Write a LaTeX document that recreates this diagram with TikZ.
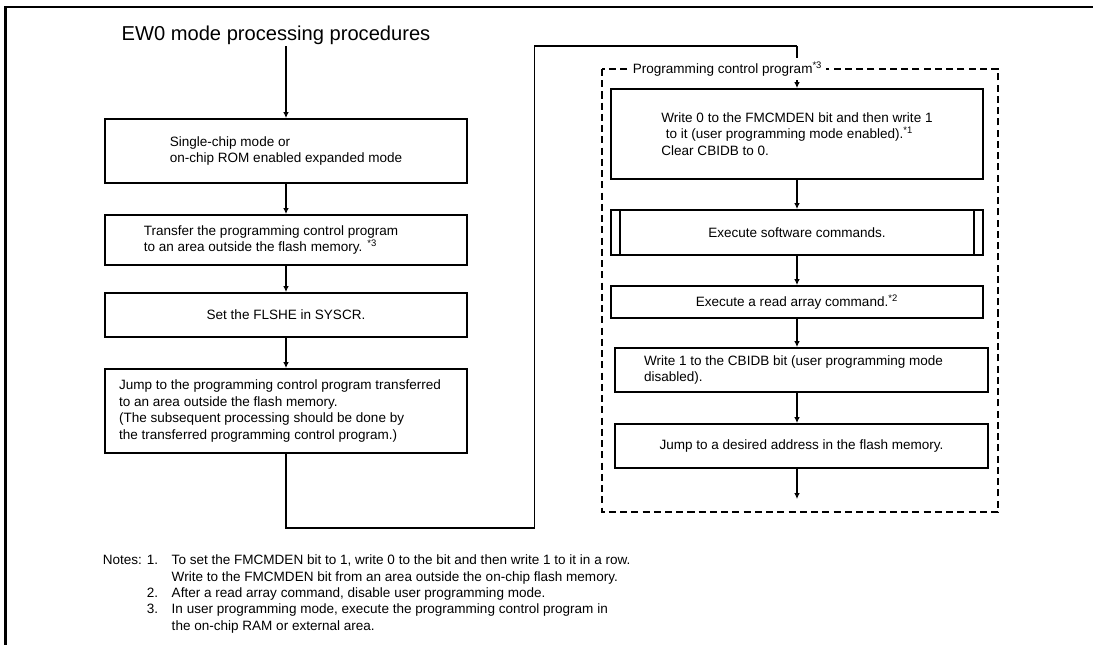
\documentclass[tikz,border=0pt]{standalone}
\usepackage{fontspec}
\setmainfont{Liberation Sans}
\usetikzlibrary{arrows.meta,positioning,calc}

\begin{document}
\begin{tikzpicture}[x=0.02cm,y=-0.02cm,>={Latex[length=3.4pt,width=3.2pt]},
  every node/.style={font=\fontsize{7.7}{9.5}\selectfont},
  stepbox/.style={draw,line width=1.1pt,align=left,inner sep=2pt},
  flow/.style={->,line width=0.6pt}]
 \useasboundingbox (0,0) rectangle (1093,645);
 \draw[line width=1.3pt] (1093,7.3) -| (5.4,645);
 % left column
 \node[inner sep=1pt,font=\fontsize{11.45}{14}\selectfont] (title) at (276,35) {EW0 mode processing procedures};
 \node[stepbox,minimum width=7.23cm,minimum height=1.28cm] (b1) at (286,151) {Single-chip mode or\\on-chip ROM enabled expanded mode};
 \node[stepbox,minimum width=7.23cm,minimum height=1.0cm] (b2) at (286,240) {Transfer the programming control program\hspace*{0.6cm}\\to an area outside the flash memory. \textsuperscript{*3}};
 \node[stepbox,minimum width=7.23cm,minimum height=0.88cm] (b3) at (286,315) {Set the FLSHE in SYSCR.};
 \node[stepbox,minimum width=7.23cm,minimum height=1.68cm] (b4) at (286,411) {Jump to the programming control program transferred\hspace*{0.24cm}\\to an area outside the flash memory.\\(The subsequent processing should be done by\\the transferred programming control program.)};
 \draw[flow] (title.south -| b1.north) -- (b1.north);
 \draw[flow] (b1) -- (b2);
 \draw[flow] (b2) -- (b3);
 \draw[flow] (b3) -- (b4);
 % right column
 \node[stepbox,minimum width=7.44cm,minimum height=1.8cm] (r1) at (797,134) {Write 0 to the FMCMDEN bit and then write 1\\\hspace*{2.5pt}to it (user programming mode enabled).\textsuperscript{*1}\\Clear CBIDB to 0.};
 \node[stepbox,minimum width=7.44cm,minimum height=0.9cm] (r2) at (797,232.5) {Execute software commands.};
 \node[stepbox,minimum width=7.44cm,minimum height=0.64cm] (r3) at (797,302) {Execute a read array command.\textsuperscript{*2}};
 \node[stepbox,minimum width=7.46cm,minimum height=0.88cm] (r4) at (801.5,370) {Write 1 to the CBIDB bit (user programming mode\hspace*{0.32cm}\\disabled).};
 \node[stepbox,minimum width=7.46cm,minimum height=0.88cm] (r5) at (801.5,446) {Jump to a desired address in the flash memory.};
 \draw[line width=1.1pt] ($(r2.north west)+(10,0)$) -- ($(r2.south west)+(10,0)$);
 \draw[line width=1.1pt] ($(r2.north east)+(-10,0)$) -- ($(r2.south east)+(-10,0)$);
 \coordinate (lowturn) at (534.6,528);
 \coordinate (highturn) at (797,46);
 \coordinate (progend) at (797,499);
 \draw[flow,-] (b4.south) |- (lowturn) |- (highturn);
 \draw[flow] (highturn) -- (r1.north);
 \draw[flow] (r1) -- (r2);
 \draw[flow] (r2) -- (r3);
 \draw[flow] (r3.south) -- (r3.south |- r4.north);
 \draw[flow] (r4.south -| r3.south) -- (r5.north -| r3.south);
 \draw[flow] (r5.south -| r3.south) -- (progend);
 \draw[line width=1.1pt,dash pattern=on 4pt off 2.4pt] (602,69) rectangle (998,512);
 \node[fill=white,inner sep=2pt,anchor=west] (proglbl) at (629,69) {Programming control program\textsuperscript{*3}};
 % notes
 \node[anchor=north west,inner sep=0pt,font=\fontsize{7.7}{9.3}\selectfont] (notes) at (102.5,553) {%
  \begin{tabular}{@{}r@{\hspace{0.27cm}}l@{}}
   Notes: 1. & To set the FMCMDEN bit to 1, write 0 to the bit and then write 1 to it in a row.\\
    & Write to the FMCMDEN bit from an area outside the on-chip flash memory.\\
   2. & After a read array command, disable user programming mode.\\
   3. & In user programming mode, execute the programming control program in\\
    & the on-chip RAM or external area.
  \end{tabular}};
\end{tikzpicture}
\end{document}
